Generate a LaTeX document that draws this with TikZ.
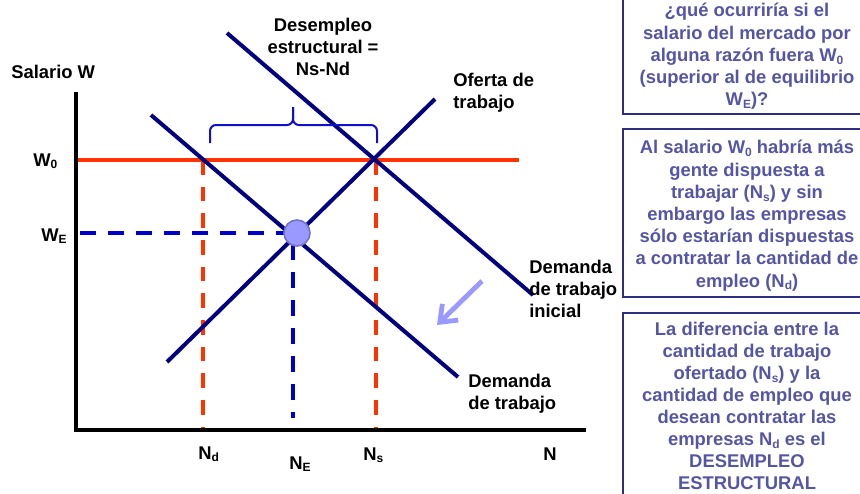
\documentclass[tikz,border=0pt]{standalone}
\usepackage{fontspec}
\setmainfont{Liberation Sans}
\usetikzlibrary{arrows.meta}
\definecolor{navyline}{HTML}{000080}
\definecolor{redline}{HTML}{FF3300}
\definecolor{bluedash}{HTML}{0000CC}
\definecolor{bracecol}{HTML}{1010CC}
\definecolor{boxtext}{HTML}{5555A5}
\definecolor{boxedge}{HTML}{2E2E80}
\definecolor{eqfill}{HTML}{9999FF}
\definecolor{eqedge}{HTML}{7373C8}
\definecolor{shiftarrow}{HTML}{9999FF}
\newcommand\lowsub[1]{\raisebox{-0.3ex}{\fontsize{9pt}{9pt}\selectfont #1}}
\begin{document}
\begin{tikzpicture}[x=0.75pt,y=-0.75pt,
  curve/.style={navyline, line width=3pt},
  wline/.style={redline, line width=3.4pt},
  reddash/.style={redline, line width=2.8pt, dash pattern=on 11pt off 9pt},
  bluedsh/.style={bluedash, line width=2.8pt, dash pattern=on 12pt off 9pt},
  axisline/.style={black, line width=3pt},
  bracepath/.style={bracecol, line width=1.5pt, rounded corners=4.5pt},
  shiftarrowstyle/.style={shiftarrow, line width=3.6pt, -{Straight Barb[length=11pt,width=17pt]}},
  eqdot/.style={circle, fill=eqfill, draw=eqedge, line width=1.2pt, minimum size=19.5pt, inner sep=0pt},
  lbl/.style={font=\fontsize{13.8pt}{16.5pt}\selectfont\bfseries, text=black, inner sep=0pt},
  boxtxt/.style={font=\fontsize{13.8pt}{16.65pt}\selectfont\bfseries, text=boxtext, inner sep=0pt, align=center, anchor=north},
  infobox/.style={draw=boxedge, line width=1.2pt, minimum width=186pt, inner sep=0pt}
]
\useasboundingbox (0,0) rectangle (860,493);
\begin{scope}
\clip (0,0) rectangle (860,493);
% coordinates
\coordinate (Wo) at (78,160);
\coordinate (WoEnd) at (519,160);
\coordinate (NdTop) at (203,160);
\coordinate (NdBot) at (203,430);
\coordinate (NsTop) at (376,160);
\coordinate (NsBot) at (376,430);
\coordinate (We) at (80,233);
\coordinate (Ecorner) at (293,233);
\coordinate (NeBot) at (293,418);
\coordinate (E) at (297,233);
\coordinate (S1) at (167,362);
\coordinate (S2) at (435,99);
\coordinate (D1) at (151,115);
\coordinate (D2) at (458,377);
\coordinate (I1) at (227,33);
\coordinate (I2) at (533,295);
\coordinate (A1) at (482,281);
\coordinate (A2) at (437,325);
\coordinate (AxTop) at (76,92);
\coordinate (AxOrig) at (76,430);
\coordinate (AxEnd) at (586,430);
\coordinate (BrL) at (210,143);
\coordinate (BrLc) at (210,125);
\coordinate (BrM) at (293,125);
\coordinate (BrT) at (293,107);
\coordinate (BrR) at (377,143);
\coordinate (BrRc) at (377,125);

% dashed guides
\draw[reddash] (NdTop) -- (NdBot);
\draw[reddash] (NsTop) -- (NsBot);
\draw[bluedsh] (We) -- (Ecorner) -- (NeBot);
% W0 line
\draw[wline] (Wo) -- (WoEnd);
% curves
\draw[curve] (S1) -- (S2);
\draw[curve] (D1) -- (D2);
\draw[curve] (I1) -- (I2);
% equilibrium
\node[eqdot] (eq) at (E) {};
% axes
\draw[axisline] (AxTop) -- (AxOrig) -- (AxEnd);
% brace
\draw[bracepath] (BrL) -- (BrLc) -- (BrM) -- (BrT);
\draw[bracepath] (BrR) -- (BrRc) -- (BrM) -- (BrT);
% shift arrow
\draw[shiftarrowstyle] (A1) -- (A2);

% labels
\node[lbl, anchor=base west] (salario) at (11,78) {Salario W};
\node[lbl, anchor=base west] (w0) at (33,166) {W\lowsub{0}};
\node[lbl, anchor=base west] (we) at (41,241) {W\lowsub{E}};
\node[lbl, anchor=north, align=center] (desemp) at (323,15.5) {\strut Desempleo\\\strut estructural =\\\strut Ns-Nd};
\node[lbl, anchor=north west, align=left] (oferta) at (453,70.5) {\strut Oferta de\\\strut trabajo};
\node[lbl, anchor=north west, align=left] (dinicial) at (529,257.5) {\strut Demanda\\\strut de trabajo\\\strut inicial};
\node[lbl, anchor=north west, align=left] (dnueva) at (468,371.5) {\strut Demanda\\\strut de trabajo};
\node[lbl, anchor=base west] (nd) at (198,459) {N\lowsub{d}};
\node[lbl, anchor=base west] (ne) at (289,469) {N\lowsub{E}};
\node[lbl, anchor=base west] (ns) at (363,460) {N\lowsub{s}};
\node[lbl, anchor=base west] (nn) at (543,460) {N};

% info boxes
\node[infobox, minimum height=93pt] (box1) at (747,52) {};
\node[infobox, minimum height=126pt] (box2) at (747,213) {};
\node[infobox, minimum height=147.75pt] (box3) at (747,411.5) {};
\node[boxtxt] (t1) at (747,1) {\strut ¿qué ocurriría si el\\\strut salario del mercado por\\\strut alguna razón fuera W\lowsub{0}\\\strut (superior al de equilibrio\\\strut W\lowsub{E})?};
\node[boxtxt] (t2) at (747,138) {\strut Al salario W\lowsub{0} habría más\\\strut gente dispuesta a\\\strut trabajar (N\lowsub{s}) y sin\\\strut embargo las empresas\\\strut sólo estarían dispuestas\\\strut a contratar la cantidad de\\\strut empleo (N\lowsub{d})};
\node[boxtxt, font=\fontsize{13.8pt}{16.5pt}\selectfont\bfseries] (t3) at (747,319.5) {\strut La diferencia entre la\\\strut cantidad de trabajo\\\strut ofertado (N\lowsub{s}) y la\\\strut cantidad de empleo que\\\strut desean contratar las\\\strut empresas N\lowsub{d} es el\\\strut DESEMPLEO\\\strut ESTRUCTURAL};
\end{scope}
\end{tikzpicture}
\end{document}
